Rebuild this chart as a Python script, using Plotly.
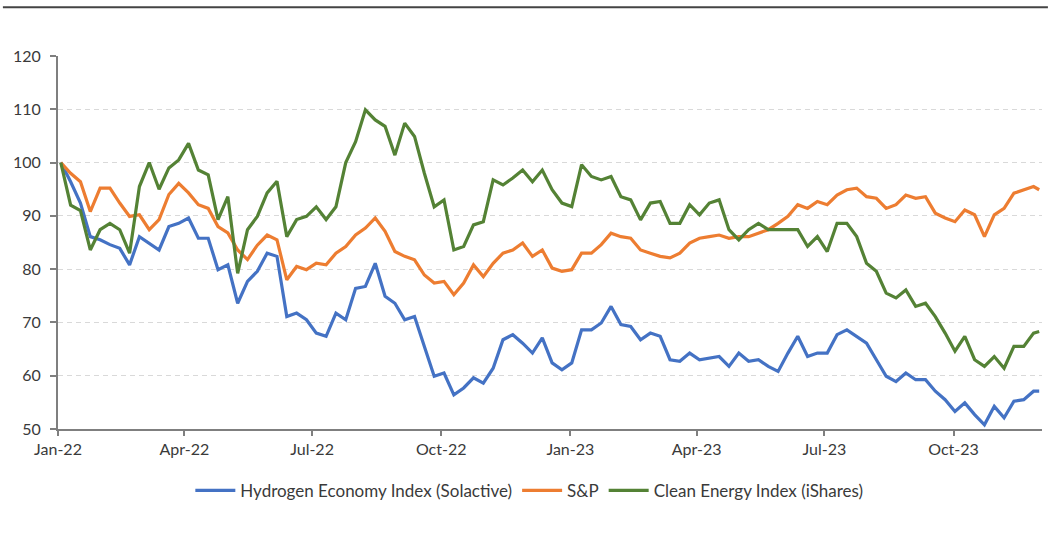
import pandas as pd
import plotly.graph_objects as go

# Weekly observation dates (Mondays) plus the final observation
dates = list(pd.date_range("2022-01-03", "2023-11-27", freq="7D").strftime("%Y-%m-%d")) + ["2023-12-01"]

hydrogen = [
    100, 96.4, 92.4, 86.1, 85.5, 84.6, 83.9, 80.8, 86.1, 84.9,
    83.6, 88.0, 88.6, 89.6, 85.8, 85.8, 79.9, 80.8, 73.6, 77.7,
    79.6, 83.0, 82.4, 71.1, 71.75, 70.5, 68.0, 67.4, 71.75, 70.5,
    76.4, 76.75, 81.1, 74.9, 73.6, 70.5, 71.1, 65.5, 59.9, 60.5,
    56.4, 57.7, 59.6, 58.6, 61.4, 66.75, 67.7, 66.1, 64.25, 67.1,
    62.4, 61.1, 62.4, 68.6, 68.6, 69.9, 73.0, 69.6, 69.25, 66.75,
    68.0, 67.4, 63.0, 62.7, 64.25, 63.0, 63.3, 63.6, 61.75, 64.25,
    62.7, 63.0, 61.75, 60.8, 64.25, 67.4, 63.6, 64.25, 64.25, 67.7,
    68.6, 67.4, 66.1, 63.0, 59.9, 58.9, 60.5, 59.25, 59.25, 57.1,
    55.5, 53.3, 54.9, 52.7, 50.8, 54.25, 52.1, 55.2, 55.5, 57.1,
    57.1,
]

sp = [
    100, 98.0, 96.4, 90.8, 95.2, 95.2, 92.4, 89.9, 90.2, 87.4,
    89.3, 94.0, 96.1, 94.3, 92.1, 91.4, 88.0, 86.8, 83.6, 81.8,
    84.5, 86.4, 85.5, 78.0, 80.5, 79.9, 81.1, 80.8, 83.0, 84.25,
    86.4, 87.7, 89.6, 87.1, 83.3, 82.4, 81.75, 78.9, 77.4, 77.7,
    75.2, 77.4, 80.8, 78.6, 81.1, 83.0, 83.6, 84.9, 82.4, 83.6,
    80.2, 79.6, 79.9, 83.0, 83.0, 84.6, 86.75, 86.1, 85.8, 83.6,
    83.0, 82.4, 82.1, 83.0, 84.9, 85.8, 86.1, 86.4, 85.8, 86.1,
    86.1, 86.75, 87.4, 88.6, 89.9, 92.1, 91.4, 92.7, 92.1, 93.9,
    94.9, 95.2, 93.6, 93.3, 91.4, 92.1, 93.9, 93.3, 93.6, 90.5,
    89.6, 88.9, 91.1, 90.2, 86.1, 90.2, 91.4, 94.25, 94.9, 95.5,
    94.9,
]

clean_energy = [
    100, 92.0, 91.0, 83.6, 87.4, 88.6, 87.4, 83.0, 95.5, 100.0,
    95.0, 99.0, 100.5, 103.6, 98.6, 97.7, 89.3, 93.6, 79.2, 87.4,
    89.9, 94.3, 96.5, 86.1, 89.3, 89.9, 91.7, 89.3, 91.7, 100.0,
    103.9, 109.9, 108.0, 106.8, 101.4, 107.4, 104.9, 98.0, 91.7, 93.0,
    83.6, 84.25, 88.3, 88.9, 96.75, 95.8, 97.1, 98.6, 96.4, 98.6,
    94.9, 92.4, 91.75, 99.6, 97.4, 96.75, 97.4, 93.6, 93.0, 89.25,
    92.4, 92.7, 88.6, 88.6, 92.1, 90.2, 92.4, 93.0, 87.4, 85.5,
    87.4, 88.6, 87.4, 87.4, 87.4, 87.4, 84.25, 86.1, 83.3, 88.6,
    88.6, 86.1, 81.1, 79.6, 75.5, 74.6, 76.1, 73.0, 73.6, 71.1,
    68.0, 64.6, 67.4, 63.0, 61.75, 63.6, 61.4, 65.5, 65.5, 68.0,
    68.3,
]

series_names = ["Hydrogen Economy Index (Solactive)", "S&P", "Clean Energy Index (iShares)"]
series_colors = ["#4472C4", "#ED7D31", "#548235"]

tick_dates = ["2022-01-01", "2022-04-01", "2022-07-01", "2022-10-01",
              "2023-01-01", "2023-04-01", "2023-07-01", "2023-10-01"]
tick_labels = ["Jan-22", "Apr-22", "Jul-22", "Oct-22",
               "Jan-23", "Apr-23", "Jul-23", "Oct-23"]
y_ticks = [50, 60, 70, 80, 90, 100, 110, 120]

fig = go.Figure()
for name, vals, col in zip(series_names, [hydrogen, sp, clean_energy], series_colors):
    fig.add_trace(go.Scatter(x=dates, y=vals, mode="lines", name=name,
                             line=dict(color=col, width=3.2)))

font_family = "Lato, 'Open Sans', sans-serif"
text_color = "#3a3a3a"

fig.update_layout(
    width=1051, height=533,
    margin=dict(l=58, r=9, t=56, b=104),
    paper_bgcolor="white", plot_bgcolor="white",
    font=dict(family=font_family, size=16, color=text_color),
    showlegend=True,
    legend=dict(orientation="h", xanchor="center", x=0.479, yanchor="middle", y=-0.166,
                itemwidth=40,
                font=dict(size=17, color=text_color), bgcolor="rgba(0,0,0,0)"),
    shapes=[dict(type="line", xref="paper", yref="paper",
                 x0=-0.056, x1=1.006, y0=1.131, y1=1.131,
                 line=dict(color="#444444", width=2))],
)

fig.update_xaxes(
    type="date", range=["2022-01-01", "2023-12-03"],
    tickvals=tick_dates, ticktext=tick_labels,
    showline=True, linecolor="#7f7f7f", linewidth=2,
    ticks="outside", ticklen=5, tickcolor="#7f7f7f", tickwidth=1.5,
    showgrid=False, zeroline=False,
    tickfont=dict(size=16, color=text_color),
)
fig.update_yaxes(
    range=[50, 120], tickvals=y_ticks,
    showline=True, linecolor="#7f7f7f", linewidth=2,
    ticks="outside", ticklen=6, tickcolor="#7f7f7f", tickwidth=1.5,
    showgrid=True, gridcolor="#d9d9d9", gridwidth=1, griddash="5px,4px",
    zeroline=False, ticklabelstandoff=6,
    tickfont=dict(size=16, color=text_color),
)

fig.write_html("out.html")
